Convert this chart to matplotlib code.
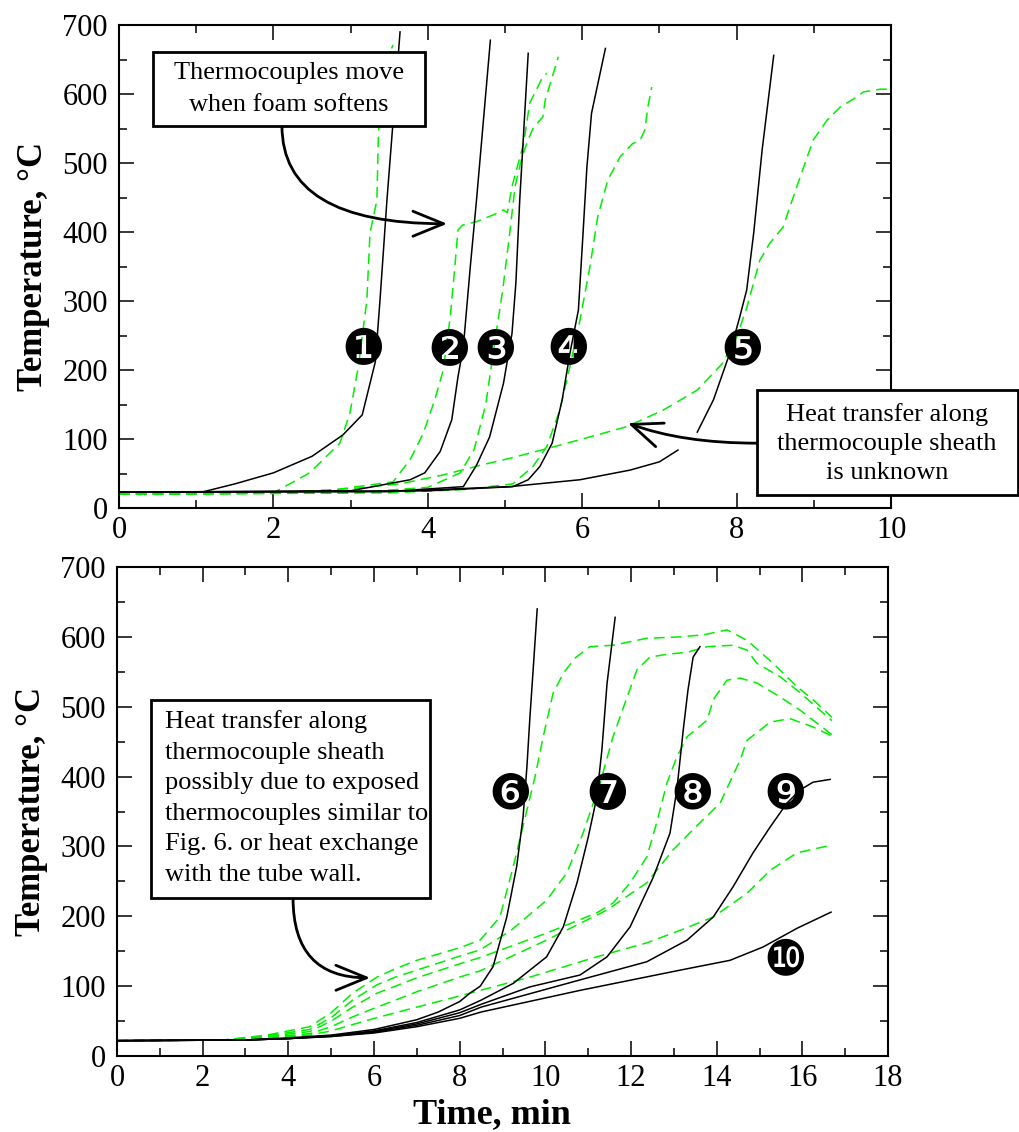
import matplotlib
matplotlib.use("Agg")
import matplotlib.pyplot as plt
from matplotlib.patches import Rectangle
from matplotlib.ticker import MultipleLocator

plt.rcParams['font.family'] = 'Liberation Serif'

# ---------------- top panel data (time in min, temperature in C) ----------------
t1 = [0, 1.07, 1.5, 2.0, 2.5, 2.9, 3.15, 3.32, 3.38, 3.47, 3.64]
T1 = [23, 23, 35, 51, 75, 106, 135, 212, 301, 446, 690]
g1_t = [0, 2.0, 2.47, 2.86, 2.99, 3.1, 3.21, 3.25, 3.34, 3.36, 3.42, 3.55]
g1_T = [20, 22, 51, 94, 137, 205, 301, 398, 446, 543, 640, 671]

t2 = [0, 3.0, 3.77, 3.96, 4.16, 4.31, 4.39, 4.46, 4.55, 4.63, 4.81]
T2 = [23, 25, 41, 51, 82, 128, 190, 234, 350, 446, 678]
g2_t = [0, 2.5, 3.55, 3.77, 3.94, 4.09, 4.2, 4.29, 4.35, 4.39, 4.45, 4.63, 4.85,
        4.98, 5.03, 5.09, 5.24, 5.32, 5.48, 5.54]
g2_T = [20, 22, 38, 70, 108, 157, 200, 277, 350, 403, 410, 415, 425,
        432, 428, 466, 528, 587, 623, 630]

t3 = [0, 3.5, 4.46, 4.63, 4.8, 4.98, 5.09, 5.14, 5.19, 5.24, 5.3]
T3 = [23, 24, 31, 62, 103, 181, 253, 326, 446, 543, 659]
g3_t = [0, 3.0, 4.0, 4.42, 4.6, 4.75, 4.87, 4.97, 5.06, 5.13, 5.22, 5.28, 5.36,
        5.49, 5.52, 5.69]
g3_T = [20, 22, 30, 51, 85, 150, 243, 316, 398, 466, 509, 528, 550,
        567, 591, 654]

t4 = [0, 4.0, 5.1, 5.3, 5.45, 5.61, 5.74, 5.84, 5.95, 6.01, 6.06, 6.12, 6.3]
T4 = [23, 25, 31, 41, 60, 94, 157, 224, 287, 398, 494, 572, 666]
g4_t = [0, 3.5, 4.5, 5.1, 5.36, 5.54, 5.71, 5.84, 5.97, 6.1, 6.2, 6.33, 6.49,
        6.65, 6.75, 6.81, 6.85, 6.9]
g4_T = [20, 22, 27, 35, 60, 89, 142, 205, 272, 350, 422, 475, 509,
        528, 533, 548, 581, 610]

t5a = [0, 3.5, 5.06, 5.97, 6.62, 7.0, 7.24]
T5a = [23, 24, 31, 41, 55, 67, 84]
t5b = [7.49, 7.7, 7.91, 8.04, 8.13, 8.22, 8.33, 8.48]
T5b = [110, 157, 224, 277, 316, 398, 519, 656]
g5_t = [0, 2.0, 3.0, 3.64, 4.2, 4.68, 5.06, 5.54, 6.0, 6.58, 7.05, 7.49, 7.82,
        8.0, 8.13, 8.3, 8.43, 8.6, 8.78, 8.99, 9.17, 9.34, 9.56, 9.64, 9.86, 10.0]
g5_T = [20, 22, 28, 35, 48, 62, 72, 86, 100, 118, 142, 171, 210,
        248, 290, 359, 384, 407, 466, 533, 562, 581, 596, 603, 607, 607]

top_black = [(t1, T1), (t2, T2), (t3, T3), (t4, T4), (t5a, T5a), (t5b, T5b)]
top_green = [(g1_t, g1_T), (g2_t, g2_T), (g3_t, g3_T), (g4_t, g4_T), (g5_t, g5_T)]
top_labels = ['\u2776', '\u2777', '\u2778', '\u2779', '\u277a']
top_label_t = [3.16, 4.27, 4.87, 5.82, 8.07]
top_label_T = [236, 236, 236, 236, 236]

# ---------------- bottom panel data ----------------
t6 = [0, 3, 4, 5, 6, 7, 7.5, 8, 8.24, 8.48, 8.78, 9.1, 9.33, 9.48, 9.57, 9.64, 9.72, 9.81]
T6 = [22, 23, 26, 30, 38, 52, 63, 78, 90, 100, 128, 199, 271, 342, 414, 485, 557, 640]
t7 = [0, 3, 4, 5, 6, 7, 8, 8.5, 9.25, 10.03, 10.42, 10.74, 11.0, 11.2, 11.32, 11.44, 11.63]
T7 = [22, 23, 25, 29, 36, 48, 66, 80, 104, 142, 185, 248, 313, 370, 438, 533, 628]
t8 = [0, 3, 4, 5, 6, 7, 8, 8.5, 9.64, 10.81, 11.44, 11.98, 12.52, 12.91, 13.07, 13.22,
      13.33, 13.45, 13.61]
T8 = [22, 23, 25, 29, 35, 46, 62, 74, 99, 116, 142, 185, 256, 319, 381, 467,
      524, 571, 586]
t9 = [0, 3, 4, 5, 6, 7, 8, 8.5, 10.81, 12.37, 13.31, 13.92, 14.38, 14.85, 15.25, 15.64,
      15.95, 16.25, 16.65]
T9 = [22, 23, 25, 28, 34, 44, 58, 70, 109, 135, 166, 199, 242, 291, 328, 362,
      381, 392, 396]
t10 = [0, 3, 4, 5, 6, 7, 8, 8.5, 10.81, 13.15, 14.31, 15.08, 15.88, 16.67]
T10 = [22, 23, 25, 28, 33, 42, 54, 63, 94, 123, 137, 156, 183, 206]

gA_t = [0, 2.5, 3.5, 4.5, 5.0, 5.5, 6.07, 6.5, 7.0, 8.0, 8.48, 8.94, 9.25, 9.57, 9.76,
        9.95, 10.18, 10.42, 10.7, 11.04, 11.58, 12.37, 13.15, 13.7, 14.24, 14.71,
        15.32, 15.87, 16.25, 16.69]
gA_T = [22, 23, 30, 42, 62, 90, 113, 125, 137, 155, 166, 199, 271, 352, 400,
        457, 519, 548, 570, 586, 588, 598, 600, 603, 610, 595,
        562, 529, 510, 485]
gB_t = [0, 2.5, 3.5, 4.5, 5.0, 5.5, 6.07, 6.5, 7.0, 8.0, 8.48, 9.2, 10.03, 10.5, 10.88,
        11.28, 11.58, 11.91, 12.14, 12.44, 12.83, 13.31, 13.78, 14.38, 14.71, 14.94,
        15.48, 15.95, 16.69]
gB_T = [22, 23, 29, 38, 55, 80, 102, 113, 123, 143, 152, 180, 223, 262, 319,
        391, 457, 514, 553, 571, 575, 578, 586, 588, 581, 562,
        543, 520, 480]
gC_t = [0, 2.5, 3.5, 4.5, 5.0, 5.5, 6.07, 6.5, 7.0, 8.0, 8.48, 10.03, 11.2, 11.58, 11.98,
        12.37, 12.6, 12.84, 13.07, 13.31, 13.78, 13.92, 14.24, 14.55, 14.94, 15.48,
        15.95, 16.69]
gC_T = [22, 23, 28, 35, 50, 70, 90, 100, 112, 132, 141, 176, 205, 219, 248,
        285, 334, 391, 428, 457, 481, 510, 538, 541, 534, 514,
        495, 460]
gD_t = [0, 2.5, 3.5, 4.5, 5.0, 5.5, 6.07, 6.5, 7.0, 8.0, 8.48, 10.03, 11.44, 12.37, 12.98,
        13.61, 14.08, 14.55, 14.71, 15.25, 15.71, 16.25, 16.69]
gD_T = [22, 23, 27, 32, 42, 56, 70, 80, 92, 113, 122, 166, 209, 248, 295,
        334, 362, 424, 452, 478, 483, 471, 458]
gE_t = [0, 2.5, 3.5, 4.5, 5.0, 5.5, 6.07, 6.5, 7.0, 8.0, 8.48, 9.64, 11.2, 12.37, 13.15,
        13.92, 14.71, 15.25, 15.88, 16.69]
gE_T = [22, 23, 26, 30, 36, 45, 55, 62, 70, 86, 94, 113, 142, 162, 180,
        199, 233, 266, 291, 302]

bot_black = [(t6, T6), (t7, T7), (t8, T8), (t9, T9), (t10, T10)]
bot_green = [(gA_t, gA_T), (gB_t, gB_T), (gC_t, gC_T), (gD_t, gD_T), (gE_t, gE_T)]
bot_labels = ['\u277b', '\u277c', '\u277d', '\u277e', '\u277f']
bot_label_t = [9.18, 11.44, 13.42, 15.6, 15.6]
bot_label_T = [381, 381, 381, 381, 145]

GREEN = '#00ee00'

fig = plt.figure(figsize=(10.2, 11.32), dpi=100)
ax1 = fig.add_axes([0.1167, 0.5512, 0.7569, 0.4267])
ax2 = fig.add_axes([0.1147, 0.0671, 0.7559, 0.4320])


def style(ax, xmax):
    ax.set_xlim(0, xmax)
    ax.set_ylim(0, 700)
    ax.xaxis.set_major_locator(MultipleLocator(2))
    ax.xaxis.set_minor_locator(MultipleLocator(1))
    ax.yaxis.set_major_locator(MultipleLocator(100))
    ax.yaxis.set_minor_locator(MultipleLocator(50))
    ax.tick_params(which='both', direction='in', top=True, right=True,
                   labelsize=22, pad=8, width=1.1)
    ax.tick_params(axis='x', which='both', pad=6)
    ax.tick_params(which='major', length=11)
    ax.tick_params(which='minor', length=5.5)
    for s in ax.spines.values():
        s.set_linewidth(1.5)
    ax.set_ylabel('Temperature, °C', fontsize=25, fontweight='bold')
    ax.yaxis.set_label_coords(-0.09, 0.5)


def draw(ax, black, green, labels, lt, lT):
    for t, T in green:
        ax.plot(t, T, color=GREEN, lw=1.1, dashes=(7, 4))
    for t, T in black:
        ax.plot(t, T, color='black', lw=1.1)
    for s, x, y in zip(labels, lt, lT):
        ax.text(x, y, s, family='DejaVu Sans', fontsize=35, ha='center',
                va='center_baseline', zorder=4)


style(ax1, 10)
style(ax2, 18)
draw(ax1, top_black, top_green, top_labels, top_label_t, top_label_T)
draw(ax2, bot_black, bot_green, bot_labels, bot_label_t, bot_label_T)

ax2.set_xlabel('Time, min', fontsize=26, fontweight='bold', va='baseline')
ax2.xaxis.set_label_coords(0.486, -0.1375)


def box(ax, x0, y0, x1, y1):
    ax.add_patch(Rectangle((x0, y0), x1 - x0, y1 - y0, transform=ax.transAxes,
                           fc='white', ec='black', lw=2, clip_on=False, zorder=6))


arrow = dict(arrowstyle='->,head_length=1.1,head_width=0.45', color='black',
             lw=2, shrinkA=0, shrinkB=0, mutation_scale=20)

# top panel notes
box(ax1, 0.044, 0.791, 0.396, 0.944)
ax1.text(0.22, 0.8675, 'Thermocouples move\nwhen foam softens', transform=ax1.transAxes,
         ha='center', va='center', fontsize=19, linespacing=1.58, zorder=7)
ax1.annotate('', xy=(4.25, 412), xytext=(2.11, 554),
             arrowprops=dict(connectionstyle='angle3,angleA=90,angleB=0', **arrow))

box(ax1, 0.826, 0.027, 1.165, 0.244)
ax1.text(0.995, 0.133, 'Heat transfer along\nthermocouple sheath\nis unknown',
         transform=ax1.transAxes, ha='center', va='center', fontsize=19,
         linespacing=1.42, zorder=7, clip_on=False)
ax1.annotate('', xy=(6.59, 123), xytext=(8.26, 94),
             arrowprops=dict(connectionstyle='angle3,angleA=0,angleB=-20', **arrow))

# bottom panel note
box(ax2, 0.044, 0.323, 0.406, 0.728)
ax2.text(0.062, 0.528, 'Heat transfer along\nthermocouple sheath\npossibly due to exposed\n'
         'thermocouples similar to\nFig. 6. or heat exchange\nwith the tube wall.',
         transform=ax2.transAxes, ha='left', va='center', fontsize=19,
         linespacing=1.5, zorder=7)
ax2.annotate('', xy=(5.91, 112), xytext=(4.11, 226),
             arrowprops=dict(connectionstyle='angle3,angleA=90,angleB=0', **arrow))

fig.savefig('out.png', dpi=100)
